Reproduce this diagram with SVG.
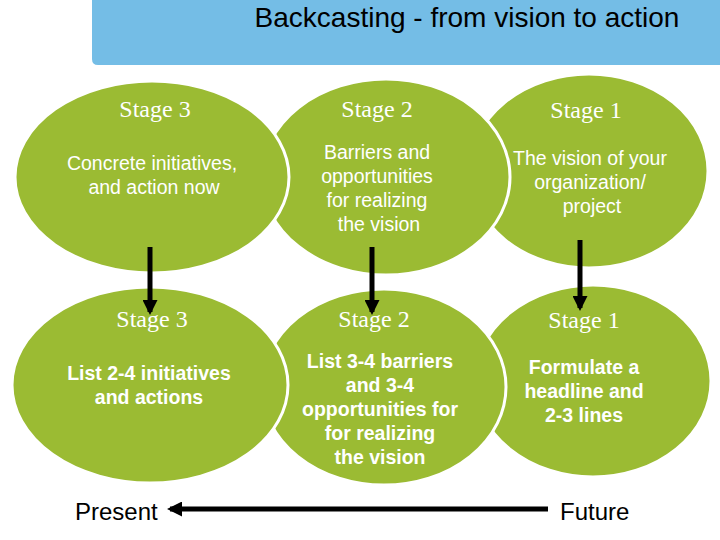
<svg xmlns="http://www.w3.org/2000/svg" width="720" height="540" viewBox="0 0 720 540">
<defs>
<style>
.c{fill:#9bbb33;stroke:#fff;stroke-width:3}
.s{font-family:"Liberation Serif",serif;font-size:24px;fill:#fff;text-anchor:middle}
.t{font-family:"Liberation Sans",sans-serif;font-size:19.5px;fill:#fff;text-anchor:middle}
.b{font-weight:bold}
.k{font-family:"Liberation Sans",sans-serif;font-size:24px;fill:#000}
.a{stroke:#000;stroke-width:5;fill:none}
</style>
<marker id="h" viewBox="0 0 10 10" refX="8" refY="5" markerWidth="3" markerHeight="3" orient="auto"><path d="M0,0L10,5L0,10z" fill="#000"/></marker>
</defs>
<rect width="720" height="540" fill="#fff"/>
<g id="header"><path d="M92,0H720V65H98Q92,65 92,59Z" fill="#74bde6"/>
<text x="467" y="27" font-family="Liberation Sans,sans-serif" font-size="28" fill="#000" text-anchor="middle">Backcasting - from vision to action</text></g>
<g id="top1"><ellipse class="c" cx="589" cy="171" rx="119" ry="97"/><text class="s" x="586" y="118">Stage 1</text><text class="t" x="590" y="165">The vision of your</text><text class="t" x="590" y="189">organization/</text><text class="t" x="592" y="213">project</text></g>
<g id="top2"><ellipse class="c" cx="386" cy="177" rx="124" ry="98"/><text class="s" x="377" y="117">Stage 2</text><text class="t" x="377" y="159">Barriers and</text><text class="t" x="377" y="183">opportunities</text><text class="t" x="377" y="207">for realizing</text><text class="t" x="379" y="231">the vision</text></g>
<g id="top3"><ellipse class="c" cx="152" cy="177" rx="137" ry="96"/><text class="s" x="155" y="117">Stage 3</text><text class="t" x="152" y="170">Concrete initiatives,</text><text class="t" x="154" y="194">and action now</text></g>
<g id="bot1"><ellipse class="c" cx="593" cy="381" rx="118" ry="96"/><text class="s" x="584" y="328">Stage 1</text><text class="t b" x="584" y="374">Formulate a</text><text class="t b" x="584" y="398">headline and</text><text class="t b" x="584" y="422">2-3 lines</text></g>
<g id="bot2"><ellipse class="c" cx="384" cy="387" rx="122" ry="98"/><text class="s" x="374" y="327">Stage 2</text><text class="t b" x="380" y="368">List 3-4 barriers</text><text class="t b" x="380" y="392">and 3-4</text><text class="t b" x="380" y="416">opportunities for</text><text class="t b" x="380" y="440">for realizing</text><text class="t b" x="380" y="464">the vision</text></g>
<g id="bot3"><ellipse class="c" cx="150" cy="385" rx="138" ry="98"/><text class="s" x="152" y="327">Stage 3</text><text class="t b" x="149" y="380">List 2-4 initiatives</text><text class="t b" x="149" y="404">and actions</text></g>
<g id="labels"><text class="k" x="75" y="520">Present</text><text class="k" x="560" y="520">Future</text></g>
<g id="connectors">
<path class="a" marker-end="url(#h)" d="M150,247V312"/>
<path class="a" marker-end="url(#h)" d="M372,247V312"/>
<path class="a" marker-end="url(#h)" d="M580,240V308"/>
<path class="a" marker-end="url(#h)" d="M548,509H170"/>
</g>
</svg>
